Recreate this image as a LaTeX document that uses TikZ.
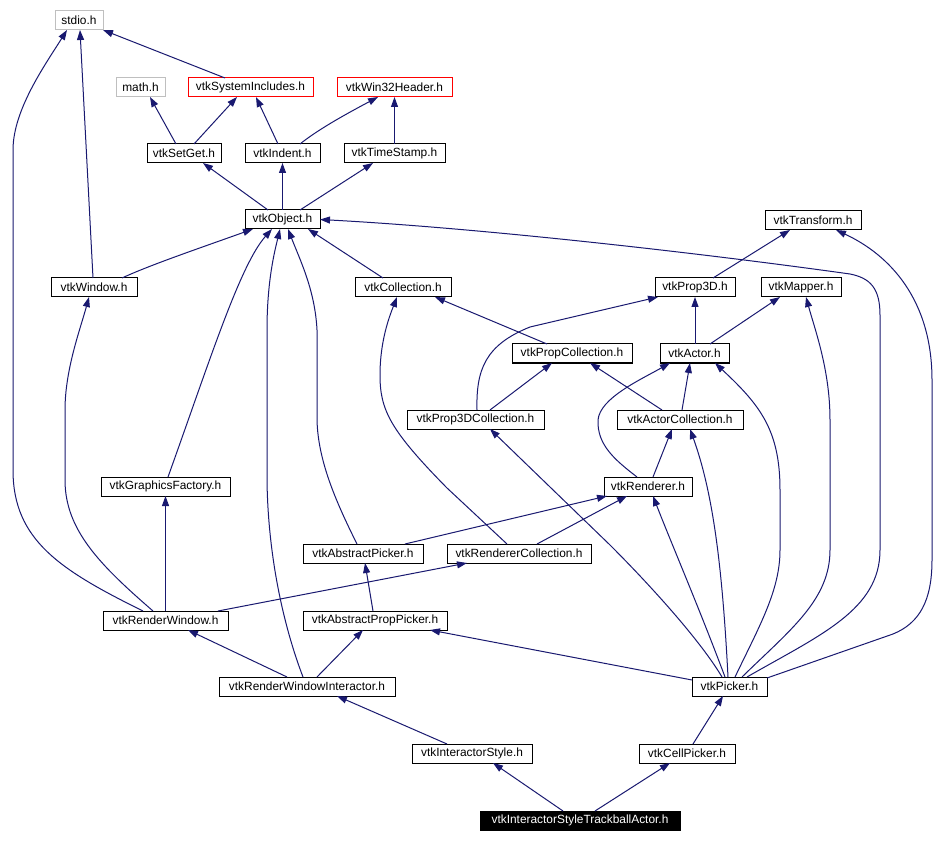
\documentclass[tikz,border=0pt]{standalone}
\usepackage{fontspec}
\setmainfont{Liberation Sans}
\usetikzlibrary{arrows.meta}
\definecolor{navy}{RGB}{25,25,112}
\definecolor{lgray}{RGB}{191,191,191}
\newcommand{\lbl}{\fontsize{11.9pt}{14pt}\selectfont}
\begin{document}
\begin{tikzpicture}[x=1pt,y=-1pt,
  box/.style={draw=black, line width=1pt, fill=white, inner sep=0pt, outer sep=0pt,
    anchor=north west, minimum height=19pt, font=\lbl, text=black},
  graybox/.style={box, draw=lgray},
  redbox/.style={box, draw=red},
  mainbox/.style={box, fill=black, text=white},
  edge/.style={draw=navy, line width=1pt, -{Triangle[length=10pt,width=7pt]}}]
\useasboundingbox[fill=white] (0,0) rectangle (948,842);
% nodes
\node[graybox, minimum width=48pt] (stdio) at (55,11) {stdio.h};
\node[graybox, minimum width=49pt] (math) at (116,78) {math.h};
\node[redbox, minimum width=125pt] (sysinc) at (188,78) {vtkSystemIncludes.h};
\node[redbox, minimum width=115pt] (win32) at (337,78) {vtkWin32Header.h};
\node[box, minimum width=74pt] (setget) at (147,144) {vtkSetGet.h};
\node[box, minimum width=75pt] (indent) at (245,144) {vtkIndent.h};
\node[box, minimum width=101pt] (timestamp) at (344,144) {vtkTimeStamp.h};
\node[box, minimum width=75pt] (object) at (245,210) {vtkObject.h};
\node[box, minimum width=96pt] (transform) at (765,211) {vtkTransform.h};
\node[box, minimum width=86pt] (window) at (51,278) {vtkWindow.h};
\node[box, minimum width=96pt] (collection) at (355,278) {vtkCollection.h};
\node[box, minimum width=80pt] (prop3d) at (655,278) {vtkProp3D.h};
\node[box, minimum width=80pt] (mapper) at (761,278) {vtkMapper.h};
\node[box, minimum width=120pt] (propcoll) at (512,344) {vtkPropCollection.h};
\node[box, minimum width=69pt] (actor) at (660,344) {vtkActor.h};
\node[box, minimum width=137pt] (prop3dcoll) at (407,410) {vtkProp3DCollection.h};
\node[box, minimum width=126pt] (actorcoll) at (617,410) {vtkActorCollection.h};
\node[box, minimum width=129pt] (graphics) at (101,477) {vtkGraphicsFactory.h};
\node[box, minimum width=88pt] (renderer) at (604,477) {vtkRenderer.h};
\node[box, minimum width=120pt] (abspicker) at (303,544) {vtkAbstractPicker.h};
\node[box, minimum width=144pt] (rencoll) at (447,544) {vtkRendererCollection.h};
\node[box, minimum width=125pt] (renwin) at (103,611) {vtkRenderWindow.h};
\node[box, minimum width=144pt] (absprop) at (303,611) {vtkAbstractPropPicker.h};
\node[box, minimum width=176pt] (rwi) at (219,677) {vtkRenderWindowInteractor.h};
\node[box, minimum width=75pt] (picker) at (692,677) {vtkPicker.h};
\node[box, minimum width=120pt] (istyle) at (412,744) {vtkInteractorStyle.h};
\node[box, minimum width=96pt] (cellpicker) at (639,744) {vtkCellPicker.h};
\node[mainbox, minimum width=200pt] (trackball) at (480,811) {vtkInteractorStyleTrackballActor.h};
% edges
\draw[edge] ([xshift=37pt]sysinc.north west) -- (stdio.south east);
\draw[edge] ([xshift=42pt]window.north west) -- ([xshift=25pt]stdio.south west);
\draw[edge] ([xshift=40pt]renwin.north west) .. controls (60,570) and (13,540) .. (13,470) -- (13,150) .. controls (13,110) and (45,65) .. ([xshift=12pt]stdio.south west);
\draw[edge] ([xshift=29pt]setget.north west) -- ([xshift=34pt]math.south west);
\draw[edge] ([xshift=47pt]setget.north west) -- ([xshift=49pt]sysinc.south west);
\draw[edge] ([xshift=33pt]indent.north west) -- ([xshift=68pt]sysinc.south west);
\draw[edge] ([xshift=55pt]indent.north west) .. controls (320,128) and (350,112) .. ([xshift=41pt]win32.south west);
\draw[edge] (timestamp.north) -- (win32.south);
\draw[edge] ([xshift=23pt]object.north west) -- ([xshift=56pt]setget.south west);
\draw[edge] (object.north) -- (indent.south);
\draw[edge] ([xshift=55pt]object.north west) -- ([xshift=29pt]timestamp.south west);
\draw[edge] ([xshift=71pt]window.north west) .. controls (150,265) and (200,248) .. ([xshift=8pt]object.south west);
\draw[edge] ([xshift=67pt]graphics.north west) .. controls (210,360) and (240,265) .. ([xshift=27pt]object.south west);
\draw[edge] ([xshift=84pt]rwi.north west) .. controls (285,630) and (268,560) .. (267,480) -- (267,330) .. controls (267,280) and (275,250) .. ([xshift=35pt]object.south west);
\draw[edge] ([xshift=54pt]abspicker.north west) .. controls (335,500) and (318,460) .. (317,420) -- (317,330) .. controls (315,290) and (300,260) .. ([xshift=43pt]object.south west);
\draw[edge] ([xshift=28pt]collection.north west) -- ([xshift=63pt]object.south west);
\draw[edge] ([xshift=58pt]prop3d.north west) -- ([xshift=25pt]transform.south west);
\draw[edge] ([xshift=35pt]actor.north west) -- ([xshift=40pt]prop3d.south west);
\draw[edge] ([xshift=50pt]actor.north west) -- ([xshift=19pt]mapper.south west);
\draw[edge] ([xshift=70pt]prop3dcoll.north west) .. controls (476,370) and (485,345) .. (530,327) -- ([xshift=3pt]prop3d.south west);
\draw[edge] ([xshift=83pt]prop3dcoll.north west) -- ([xshift=40pt]propcoll.south west);
\draw[edge] ([xshift=45pt]actorcoll.north west) -- ([xshift=78pt]propcoll.south west);
\draw[edge] ([xshift=35pt]propcoll.north west) -- ([xshift=80pt]collection.south west);
\draw[edge] ([xshift=65pt]actorcoll.north west) -- ([xshift=30pt]actor.south west);
\draw[edge] ([xshift=49pt]renderer.north west) -- ([xshift=55pt]actorcoll.south west);
\draw[edge] ([xshift=33pt]renderer.north west) .. controls (615,460) and (597,445) .. (598,420) .. controls (600,398) and (640,380) .. ([xshift=10pt]actor.south west);
\draw[edge] ([xshift=102pt]abspicker.north west) -- ([xshift=3pt]renderer.south west);
\draw[edge] ([xshift=90pt]rencoll.north west) -- ([xshift=23pt]renderer.south west);
\draw[edge] ([xshift=60pt]rencoll.north west) -- (447,488) .. controls (390,430) and (380,410) .. (380,375) .. controls (380,340) and (390,315) .. ([xshift=42pt]collection.south west);
\draw[edge] ([xshift=115pt]renwin.north west) -- ([xshift=20pt]rencoll.south west);
\draw[edge] ([xshift=50pt]renwin.north west) .. controls (100,565) and (65,530) .. (65,480) -- (65,410) .. controls (65,370) and (80,330) .. ([xshift=38pt]window.south west);
\draw[edge] (renwin.north) -- (graphics.south);
\draw[edge] ([xshift=68pt]rwi.north west) -- ([xshift=85pt]renwin.south west);
\draw[edge] ([xshift=98pt]rwi.north west) -- ([xshift=60pt]absprop.south west);
\draw[edge] ([xshift=70pt]absprop.north west) -- ([xshift=62pt]abspicker.south west);
\draw[edge] ([xshift=35pt]istyle.north west) -- ([xshift=118pt]rwi.south west);
\draw[edge] ([xshift=83pt]trackball.north west) -- ([xshift=81pt]istyle.south west);
\draw[edge] ([xshift=115pt]trackball.north west) -- ([xshift=31pt]cellpicker.south west);
\draw[edge] ([xshift=54pt]cellpicker.north west) -- ([xshift=31pt]picker.south west);
\draw[edge] ([yshift=-3pt]picker.north west) -- ([xshift=127pt]absprop.south west);
\draw[edge] ([xshift=30pt]picker.north west) .. controls (700,640) and (650,585) .. (610,545) -- ([xshift=83pt]prop3dcoll.south west);
\draw[edge] ([xshift=33pt]picker.north west) .. controls (700,610) and (670,540) .. ([xshift=49pt]renderer.south west);
\draw[edge] ([xshift=36pt]picker.north west) .. controls (722,560) and (712,490) .. ([xshift=73pt]actorcoll.south west);
\draw[edge] ([xshift=43pt]picker.north west) .. controls (760,625) and (780,590) .. (780,550) -- (780,490) .. controls (780,430) and (760,405) .. ([xshift=55pt]actor.south west);
\draw[edge] ([xshift=50pt]picker.north west) .. controls (790,630) and (830,600) .. (830,550) -- (830,420) .. controls (830,370) and (815,330) .. ([xshift=45pt]mapper.south west);
\draw[edge] ([xshift=55pt]picker.north west) .. controls (820,635) and (880,610) .. (880,550) -- (880,315) .. controls (880,288) and (870,278) .. (850,274) .. controls (700,253) and (480,228) .. (object.east);
\draw[edge] ([yshift=-1pt]picker.north east) -- (893,634) .. controls (920,623) and (932,600) .. (932,560) -- (932,380) .. controls (932,300) and (890,255) .. ([xshift=71pt]transform.south west);
\end{tikzpicture}
\end{document}
